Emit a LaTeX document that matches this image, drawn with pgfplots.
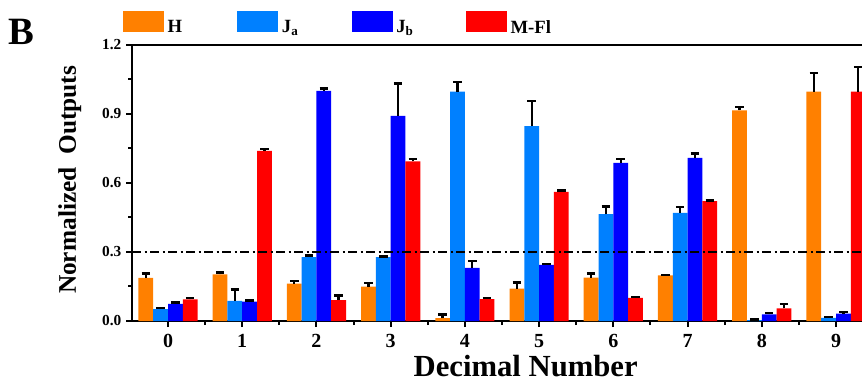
\documentclass[border=0pt]{standalone}
\usepackage{pgfplots}
\pgfplotsset{compat=1.18}
\usepackage{fontspec}
\setmainfont{Liberation Serif}
\definecolor{cH}{RGB}{255,128,0}
\definecolor{cJa}{RGB}{0,128,255}
\definecolor{cJb}{RGB}{0,0,255}
\definecolor{cMF}{RGB}{255,0,0}
\begin{document}
\begin{tikzpicture}
\useasboundingbox (0,0) rectangle (646.5pt,288.75pt);
\begin{scope}
\clip (0,0) rectangle (646.5pt,288.75pt);
\node[font=\bfseries\fontsize{29}{29}\selectfont] at (16pt,265pt) {B};
\begin{axis}[
  at={(99pt,48pt)}, anchor=south west,
  scale only axis, width=555pt, height=207pt,
  xmin=-0.485, xmax=9.485, ymin=0, ymax=1.2,
  ybar=0pt, bar width=11.1pt,
  axis line style={line width=1.5pt},
  xtick={0,...,9},
  minor xtick={0.5,1.5,...,8.5},
  ytick={0,0.3,0.6,0.9,1.2},
  minor ytick={0.15,0.45,0.75,1.05},
  xtick pos=lower, ytick pos=left,
  tick align=outside,
  major tick length=4.5pt, minor tick length=3pt,
  every tick/.style={black, line width=1.5pt},
  /pgf/number format/assume math mode=true,
  yticklabel style={/pgf/number format/.cd, fixed, fixed zerofill, precision=1, /tikz/.cd, font=\bfseries\fontsize{11.5}{11.5}\selectfont},
  xticklabel style={font=\bfseries\fontsize{15}{15}\selectfont, yshift=-2pt},
  xlabel={Decimal Number},
  xlabel style={font=\bfseries\fontsize{23}{23}\selectfont, at={(axis description cs:0.532,-0.164)}, anchor=center},
  ylabel={Normalized~~Outputs},
  ylabel style={font=\bfseries\fontsize{19}{19}\selectfont, at={(axis description cs:-0.084,0.511)}, anchor=center},
  legend columns=4,
  legend style={draw=none, fill=none, inner sep=0pt, at={(axis description cs:0,1)}, anchor=west, xshift=-7pt, yshift=16pt,
    font=\bfseries\fontsize{14}{14}\selectfont, nodes={inner sep=1pt}},
  legend image code/.code={\fill[#1,draw=none] (0pt,-3.6pt) rectangle (30.75pt,12.4pt);},
  error bars/y dir=plus, error bars/y explicit,
  error bars/error bar style={black, line width=1.8pt},
  error bars/error mark options={rotate=90, black, line width=1.8pt, mark size=3.2pt},
]
\addplot[fill=cH, draw=none] coordinates {
 (0,0.187) +- (0,0.019) (1,0.203) +- (0,0.007) (2,0.163) +- (0,0.012) (3,0.149) +- (0,0.017)
 (4,0.012) +- (0,0.017) (5,0.141) +- (0,0.026) (6,0.189) +- (0,0.017) (7,0.198) +- (0,0.003)
 (8,0.916) +- (0,0.015) (9,0.997) +- (0,0.081)};
\addlegendentry{\makebox[53pt][l]{\hspace{1.75pt}H}}
\addplot[fill=cJa, draw=none] coordinates {
 (0,0.052) +- (0,0.005) (1,0.088) +- (0,0.049) (2,0.278) +- (0,0.006) (3,0.278) +- (0,0.003)
 (4,0.997) +- (0,0.042) (5,0.847) +- (0,0.110) (6,0.465) +- (0,0.033) (7,0.470) +- (0,0.025)
 (8,0.004) +- (0,0.002) (9,0.014) +- (0,0.004)};
\addlegendentry{\makebox[53pt][l]{\hspace{1.75pt}J\textsubscript{a}}}
\addplot[fill=cJb, draw=none] coordinates {
 (0,0.074) +- (0,0.007) (1,0.084) +- (0,0.006) (2,1.000) +- (0,0.010) (3,0.892) +- (0,0.141)
 (4,0.231) +- (0,0.029) (5,0.244) +- (0,0.004) (6,0.687) +- (0,0.017) (7,0.709) +- (0,0.020)
 (8,0.029) +- (0,0.006) (9,0.032) +- (0,0.006)};
\addlegendentry{\makebox[53pt][l]{\hspace{1.75pt}J\textsubscript{b}}}
\addplot[fill=cMF, draw=none] coordinates {
 (0,0.094) +- (0,0.005) (1,0.740) +- (0,0.008) (2,0.091) +- (0,0.020) (3,0.694) +- (0,0.010)
 (4,0.095) +- (0,0.005) (5,0.561) +- (0,0.006) (6,0.100) +- (0,0.004) (7,0.521) +- (0,0.003)
 (8,0.055) +- (0,0.019) (9,0.997) +- (0,0.108)};
\addlegendentry{\makebox[53pt][l]{\hspace{1.75pt}M-Fl}}
\draw[black, line width=1.5pt, dash pattern=on 7pt off 2.5pt on 1.5pt off 2.5pt] (axis cs:-0.485,0.3) -- (axis cs:9.485,0.3);
\end{axis}
\end{scope}
\end{tikzpicture}
\end{document}
